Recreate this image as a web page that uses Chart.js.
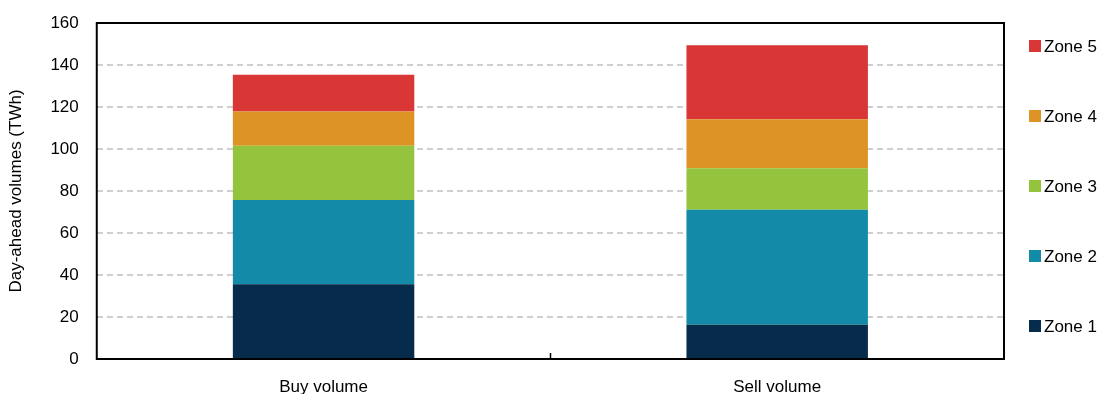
<!DOCTYPE html>
<html>
<head>
<meta charset="utf-8">
<script src="https://cdn.jsdelivr.net/npm/chart.js@4/dist/chart.umd.min.js"></script>
<style>
  html, body { margin: 0; padding: 0; background: #fff; }
  #wrap { width: 1101px; height: 394px; }
</style>
</head>
<body>
<div id="wrap"><canvas id="bar-chart"></canvas></div>
<script>
const categories = ["Buy volume", "Sell volume"];
const zoneLabels = ["Zone 1", "Zone 2", "Zone 3", "Zone 4", "Zone 5"];
const zone1 = [35.6, 16.3];
const zone2 = [40.1, 54.8];
const zone3 = [25.9, 19.7];
const zone4 = [16.3, 23.4];
const zone5 = [17.5, 35.2];
const zoneColors = ["#062b4b", "#148aa9", "#94c43e", "#de9424", "#d93636"];
const yTicks = [0, 20, 40, 60, 80, 100, 120, 140, 160];

const FONT = "'Liberation Sans', Arial, sans-serif";

// frame round the plot + small tick between the two categories
const framePlugin = {
  id: "frame",
  afterDraw(chart) {
    const { ctx, chartArea: a, scales } = chart;
    ctx.save();
    ctx.strokeStyle = "#000";
    ctx.lineWidth = 2;
    ctx.strokeRect(a.left, a.top, a.right - a.left, a.bottom - a.top);
    const mid = scales.x.getPixelForValue(0.5);
    ctx.beginPath();
    ctx.moveTo(Math.round(mid) + 0.5, a.bottom);
    ctx.lineTo(Math.round(mid) + 0.5, a.bottom - 6);
    ctx.lineWidth = 1.5;
    ctx.stroke();
    ctx.restore();
  },
};

// legend on the right, top item = last zone, spread down the plot height
const sideLegend = {
  id: "sideLegend",
  afterDraw(chart) {
    const { ctx, chartArea: a } = chart;
    const sets = chart.data.datasets;
    const x = a.right + 25;
    const step = 70;
    ctx.save();
    ctx.font = "17px " + FONT;
    ctx.textBaseline = "middle";
    ctx.textAlign = "left";
    for (let i = 0; i < sets.length; i++) {
      const y = a.top + 23 + (sets.length - 1 - i) * step;
      ctx.fillStyle = sets[i].backgroundColor;
      ctx.fillRect(x, y - 6, 12, 12);
      ctx.fillStyle = "#000";
      ctx.fillText(sets[i].label, x + 15, y + 1);
    }
    ctx.restore();
  },
};

const series = [zone1, zone2, zone3, zone4, zone5];
const datasets = series.map((d, i) => ({
  label: zoneLabels[i],
  data: d,
  backgroundColor: zoneColors[i],
  borderWidth: 0,
  barPercentage: 0.4,
  categoryPercentage: 1,
}));

new Chart(document.getElementById("bar-chart"), {
  type: "bar",
  data: { labels: categories, datasets: datasets },
  options: {
    responsive: true,
    maintainAspectRatio: false,
    animation: false,
    layout: { padding: { top: 23, right: 97, bottom: 0, left: 6 } },
    scales: {
      x: {
        stacked: true,
        grid: { display: false },
        border: { display: false },
        ticks: { color: "#000", font: { family: FONT, size: 17 }, padding: 10, maxRotation: 0 },
        afterFit: (axis) => { axis.height = 35; },
      },
      y: {
        stacked: true,
        min: 0,
        max: 160,
        afterBuildTicks: (axis) => {
          axis.ticks = yTicks.map((v) => ({ value: v }));
        },
        afterFit: (axis) => { axis.paddingTop = 0; },
        grid: {
          drawTicks: false,
          color: (c) => (c.tick.value === 0 || c.tick.value === 160 ? "transparent" : "#cfcfcf"),
          lineWidth: 2,
        },
        border: { display: false, dash: [6, 4] },
        ticks: { color: "#000", font: { family: FONT, size: 17 }, padding: 18 },
        title: {
          display: true,
          text: "Day-ahead volumes (TWh)",
          color: "#000",
          font: { family: FONT, size: 17 },
          padding: { top: 0, bottom: 6 },
        },
      },
    },
    plugins: {
      legend: { display: false },
      tooltip: { enabled: false },
    },
  },
  plugins: [framePlugin, sideLegend],
});
</script>
</body>
</html>
